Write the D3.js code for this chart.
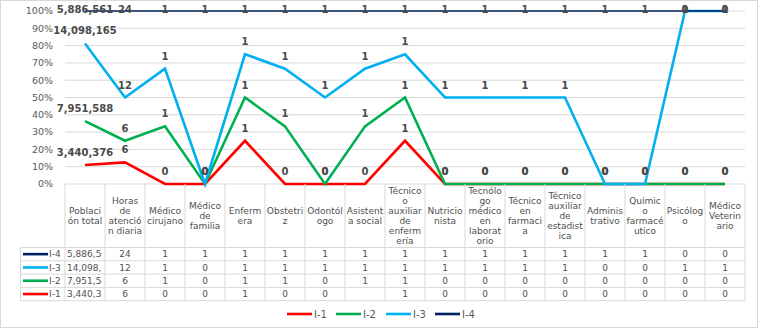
<!DOCTYPE html>
<html>
<head>
<meta charset="utf-8">
<script src="https://cdn.jsdelivr.net/npm/d3@7"></script>
<style>
  body { margin: 0; background: #fff; }
  svg { display: block; font-family: "DejaVu Sans", Verdana, sans-serif; }
</style>
</head>
<body>
<svg id="chart" width="759" height="329"></svg>
<script>
// categories (full names) and how they wrap in the table header
const categories = ['Población total', 'Horas de atención diaria', 'Médico cirujano', 'Médico de familia',
  'Enfermera', 'Obstetriz', 'Odontólogo', 'Asistente social', 'Técnico auxiliar de enfermería',
  'Nutricionista', 'Tecnólogo médico en laboratorio', 'Técnico en farmacia',
  'Técnico auxiliar de estadística', 'Administrativo', 'Químico farmacéutico', 'Psicólogo', 'Médico Veterinario'];
const headerLines = [
  ['Poblaci', 'ón total'], ['Horas', 'de', 'atenció', 'n diaria'], ['Médico', 'cirujano'], ['Médico', 'de', 'familia'],
  ['Enferm', 'era'], ['Obstetri', 'z'], ['Odontól', 'ogo'], ['Asistent', 'a social'],
  ['Técnico', 'o', 'auxiliar', 'de', 'enferm', 'ería'], ['Nutricio', 'nista'],
  ['Tecnólo', 'go', 'médico', 'en', 'laborat', 'orio'], ['Técnico', 'en', 'farmaci', 'a'],
  ['Técnico', 'auxiliar', 'de', 'estadist', 'ica'], ['Adminis', 'trativo'], ['Químic', 'o', 'farmacé', 'utico'],
  ['Psicólog', 'o'], ['Médico', 'Veterin', 'ario']
];

// series values (null = empty cell)
const seriesNames = ['I-1', 'I-2', 'I-3', 'I-4'];
const i1 = [3440376, 6, 0, 0, 1, 0, 0, null, 1, 0, 0, 0, 0, 0, 0, 0, 0];
const i2 = [7951588, 6, 1, 0, 1, 1, 0, 1, 1, 0, 0, 0, 0, 0, 0, 0, 0];
const i3 = [14098165, 12, 1, 0, 1, 1, 1, 1, 1, 1, 1, 1, 1, 0, 0, 1, 1];
const i4 = [5886561, 24, 1, 1, 1, 1, 1, 1, 1, 1, 1, 1, 1, 1, 1, 0, 0];
const seriesColors = ['#ff0000', '#00b050', '#00b0f0', '#002060'];
const yTicks = [0, 0.1, 0.2, 0.3, 0.4, 0.5, 0.6, 0.7, 0.8, 0.9, 1];

const values = [i1, i2, i3, i4];
const rows = categories.map((c, i) => {
  const r = {cat: c};
  seriesNames.forEach((s, k) => r[s] = values[k][i] || 0);
  return r;
});

const svg = d3.select('#chart');
const W = 759, H = 329;
const plotLeft = 65, plotRight = 745, plotTop = 11, plotBottom = 184;
const headerBottom = 247.5, rowH = 13.3;
const labelColor = '#4a4a4a', gridColor = '#d9d9d9';

svg.append('rect').attr('x', 0.5).attr('y', 0.5).attr('width', W - 2).attr('height', H - 2)
  .attr('fill', '#fff').attr('stroke', gridColor);

const x = d3.scaleBand().domain(categories).range([plotLeft, plotRight]).padding(0);
const y = d3.scaleLinear().domain([0, 1]).range([plotBottom, plotTop]);
const cx = c => x(c) + x.bandwidth() / 2;

// gridlines
svg.append('g').selectAll('line').data(yTicks).join('line')
  .attr('x1', plotLeft).attr('x2', plotRight)
  .attr('y1', d => y(d)).attr('y2', d => y(d))
  .attr('stroke', gridColor).attr('stroke-width', 1);

// y axis labels
svg.append('g').selectAll('text').data(yTicks).join('text')
  .attr('x', 53).attr('y', d => y(d)).attr('dy', '0.35em')
  .attr('text-anchor', 'end').attr('font-size', 9.5).attr('fill', '#595959')
  .text(d3.format('.0%'));

// 100% stacked lines
const stack = d3.stack().keys(seriesNames).offset(d3.stackOffsetExpand);
const stacked = stack(rows);
const line = d3.line().x(d => cx(d.data.cat)).y(d => y(d[1]));

svg.append('g').selectAll('path').data(stacked).join('path')
  .attr('d', line).attr('fill', 'none')
  .attr('stroke', (d, i) => seriesColors[i])
  .attr('stroke-width', (d, i) => i === 3 ? 1.6 : 2.6)
  .attr('stroke-linejoin', 'miter');

// data labels
const fmt = d3.format(',');
stacked.forEach((s, k) => {
  svg.append('g').selectAll('text').data(s).join('text')
    .attr('x', d => cx(d.data.cat))
    .attr('y', d => Math.max(y(d[1]) - 12.5, 9))
    .attr('dy', '0.35em').attr('text-anchor', 'middle')
    .attr('font-size', 10).attr('font-weight', 'bold').attr('fill', labelColor)
    .text(d => fmt(d.data[seriesNames[k]]));
});

// data table
const table = svg.append('g').attr('font-size', 9).attr('fill', '#505050');
const tableBottom = headerBottom + rowH * 4;
const borderColor = '#d9d9d9';

// vertical borders
table.append('g').selectAll('line').data(d3.range(categories.length + 1)).join('line')
  .attr('x1', i => plotLeft + i * x.bandwidth()).attr('x2', i => plotLeft + i * x.bandwidth())
  .attr('y1', plotBottom).attr('y2', tableBottom).attr('stroke', borderColor);
table.append('line').attr('x1', 20.5).attr('x2', 20.5).attr('y1', headerBottom).attr('y2', tableBottom).attr('stroke', borderColor);
// horizontal borders
table.append('g').selectAll('line').data(d3.range(5)).join('line')
  .attr('x1', 20.5).attr('x2', plotRight)
  .attr('y1', i => headerBottom + i * rowH).attr('y2', i => headerBottom + i * rowH)
  .attr('stroke', borderColor);

// header text
categories.forEach((c, i) => {
  const lines = headerLines[i];
  const midY = (plotBottom + headerBottom) / 2 + 0.5;
  const t = table.append('text').attr('text-anchor', 'middle');
  lines.forEach((ln, j) => {
    t.append('tspan').attr('x', cx(c))
      .attr('y', midY + (j - (lines.length - 1) / 2) * 10).attr('dy', '0.35em').text(ln);
  });
});

// clip per column
const defs = svg.append('defs');
categories.forEach((c, i) => {
  defs.append('clipPath').attr('id', 'col' + i).append('rect')
    .attr('x', x(c) + 1).attr('y', headerBottom).attr('width', x.bandwidth() - 4).attr('height', rowH * 4);
});

// rows: I-4 on top
const tableOrder = [3, 2, 1, 0];
tableOrder.forEach((k, r) => {
  const rowY = headerBottom + r * rowH + rowH / 2;
  table.append('line').attr('x1', 23).attr('x2', 48).attr('y1', rowY).attr('y2', rowY)
    .attr('stroke', seriesColors[k]).attr('stroke-width', 2.6);
  table.append('text').attr('x', 49).attr('y', rowY).attr('dy', '0.35em')
    .text(seriesNames[k]);
  values[k].forEach((v, i) => {
    if (v === null) return;
    const c = categories[i];
    const t = table.append('text').attr('clip-path', `url(#col${i})`)
      .attr('y', rowY).attr('dy', '0.35em').text(fmt(v));
    const w = t.node().getComputedTextLength();
    if (w > x.bandwidth() - 4) t.attr('x', x(c) + 2).attr('text-anchor', 'start');
    else t.attr('x', cx(c)).attr('text-anchor', 'middle');
  });
});

// legend
const legendX = [287, 336, 386, 435];
const legend = svg.append('g').selectAll('g').data(seriesNames).join('g')
  .attr('transform', (d, i) => `translate(${legendX[i]},314)`);
legend.append('line').attr('x1', 0).attr('x2', 25).attr('stroke', (d, i) => seriesColors[i]).attr('stroke-width', 2.6);
legend.append('text').attr('x', 27).attr('dy', '0.35em').attr('font-size', 10).attr('fill', '#595959').text(d => d);
</script>
</body>
</html>
